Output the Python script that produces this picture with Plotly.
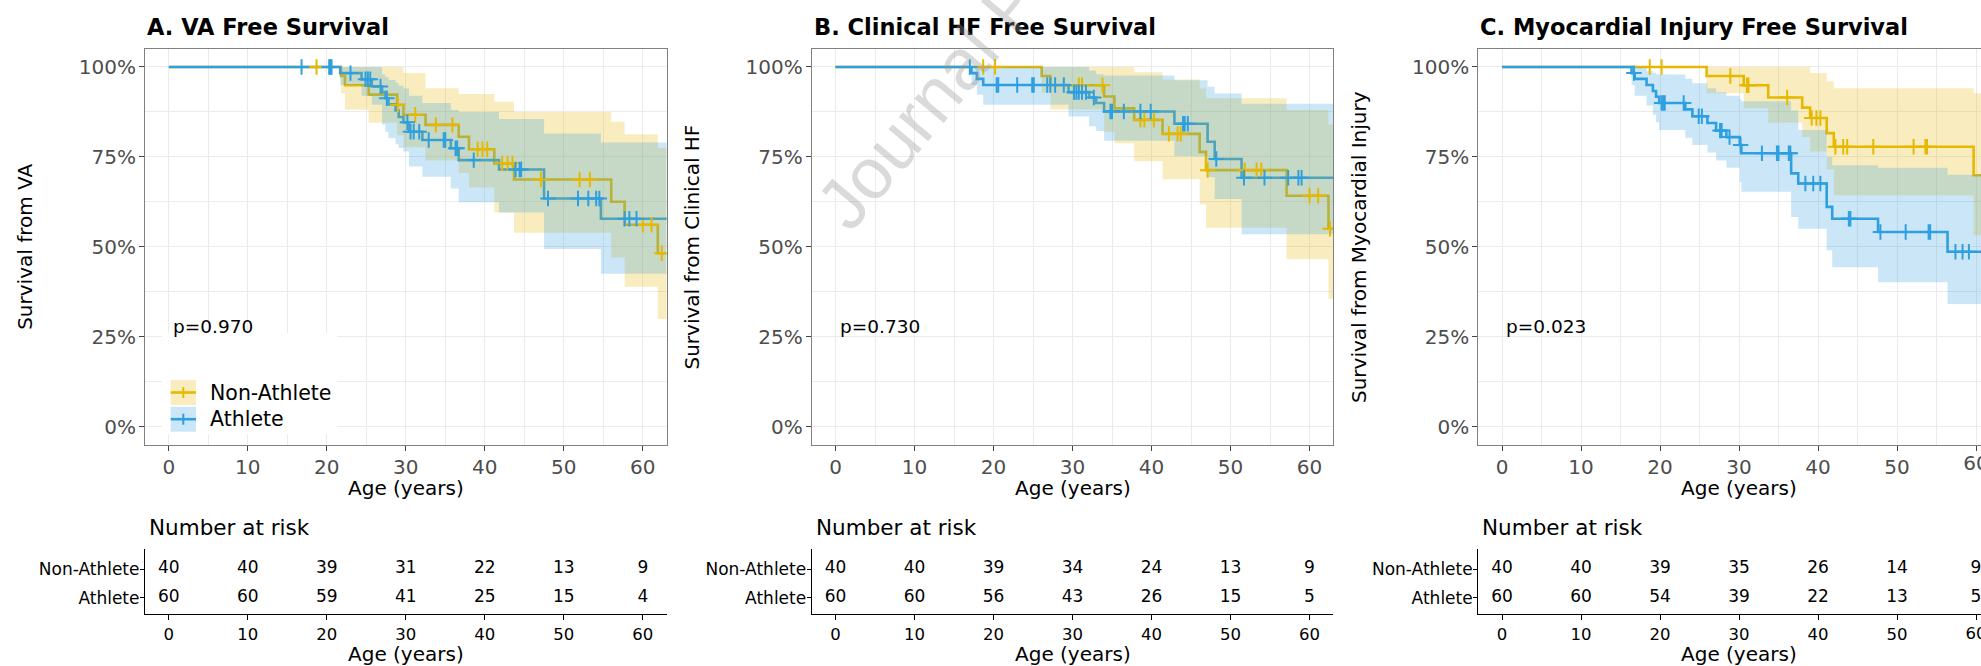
import plotly.graph_objects as go

# ---------------------------------------------------------------------------
# Kaplan-Meier estimates (age in years, survival as a fraction)
# ---------------------------------------------------------------------------
GROUPS = ["Non-Athlete", "Athlete"]
RISK_TIMES = [0, 10, 20, 30, 40, 50, 60]
FOLLOW_END = 63.5

# A. VA free survival
va_non_time = [0, 21.8, 22.3, 25.3, 28.9, 29.7, 32.5, 36.7, 38.0, 41.2, 43.7, 56.0, 57.7, 61.9]
va_non_surv = [1.000, 0.975, 0.949, 0.923, 0.895, 0.867, 0.839, 0.806, 0.771, 0.732, 0.687, 0.625, 0.561, 0.482]
va_non_upper = [1.000, 1.000, 1.000, 1.000, 1.000, 0.983, 0.941, 0.925, 0.925, 0.903, 0.875, 0.848, 0.813, 0.775]
va_non_lower = [1.000, 0.927, 0.881, 0.845, 0.810, 0.777, 0.740, 0.705, 0.665, 0.595, 0.539, 0.470, 0.389, 0.299]
va_non_censor = [18.7, 29.0, 31.2, 33.8, 35.9, 39.1, 39.7, 40.3, 42.2, 42.9, 43.5, 47.1, 52.0, 53.3, 60.0, 61.1, 62.4]

va_ath_time = [0, 21.7, 24.4, 25.7, 27.0, 27.4, 27.8, 28.7, 29.1, 29.7, 30.4, 32.1, 35.7, 36.7, 41.8, 47.5, 54.7]
va_ath_surv = [1.000, 0.983, 0.966, 0.946, 0.930, 0.913, 0.896, 0.879, 0.861, 0.846, 0.820, 0.797, 0.774, 0.741, 0.715, 0.634, 0.578]
va_ath_upper = [1.000, 1.000, 1.000, 1.000, 0.980, 0.972, 0.964, 0.956, 0.948, 0.940, 0.920, 0.900, 0.880, 0.875, 0.855, 0.815, 0.790]
va_ath_lower = [1.000, 0.950, 0.920, 0.895, 0.840, 0.820, 0.802, 0.785, 0.775, 0.765, 0.723, 0.695, 0.662, 0.624, 0.595, 0.494, 0.425]
va_ath_censor = [16.8, 20.3, 20.5, 20.6, 23.0, 24.9, 25.2, 25.5, 26.8, 27.6, 30.2, 30.6, 31.0, 31.7, 32.9,
                 34.8, 35.0, 36.3, 36.5, 38.6, 43.9, 44.4, 44.6, 48.0, 51.8, 53.1, 54.1, 54.5, 57.7, 58.3, 59.2]

va_risk_non = [40, 40, 39, 31, 22, 13, 9]
va_risk_ath = [60, 60, 59, 41, 25, 15, 4]

# B. Clinical HF free survival
hf_non_time = [0, 26.1, 27.2, 34.0, 35.3, 37.8, 41.4, 46.1, 46.9, 57.1, 62.4]
hf_non_surv = [1.000, 0.975, 0.949, 0.918, 0.885, 0.853, 0.814, 0.764, 0.713, 0.642, 0.550]
hf_non_upper = [1.000, 1.000, 1.000, 1.000, 1.000, 0.985, 0.965, 0.940, 0.913, 0.880, 0.840]
hf_non_lower = [1.000, 0.928, 0.882, 0.820, 0.788, 0.738, 0.688, 0.618, 0.553, 0.465, 0.355]
hf_non_censor = [18.7, 20.2, 30.8, 31.2, 33.8, 38.6, 39.1, 40.3, 42.2, 43.3, 43.7, 47.1, 51.8, 53.3, 53.9, 60.0, 61.1, 62.6]

hf_ath_time = [0, 17.2, 17.9, 18.7, 29.5, 32.1, 33.0, 34.0, 42.9, 47.1, 48.0, 51.4]
hf_ath_surv = [1.000, 0.983, 0.967, 0.950, 0.930, 0.915, 0.900, 0.876, 0.842, 0.792, 0.744, 0.692]
hf_ath_upper = [1.000, 1.000, 1.000, 1.000, 1.000, 0.990, 0.980, 0.976, 0.963, 0.945, 0.926, 0.898]
hf_ath_lower = [1.000, 0.950, 0.923, 0.895, 0.862, 0.835, 0.822, 0.795, 0.752, 0.693, 0.633, 0.535]
hf_ath_censor = [17.0, 20.4, 20.6, 23.0, 24.9, 25.1, 26.8, 27.2, 27.8, 28.9, 30.2, 30.5, 30.8, 31.2, 31.7,
                 32.7, 34.8, 35.0, 36.5, 38.6, 39.9, 44.0, 44.2, 44.6, 48.2, 51.7, 54.3, 57.3, 58.6, 59.0]

hf_risk_non = [40, 40, 39, 34, 24, 13, 9]
hf_risk_ath = [60, 60, 56, 43, 26, 15, 5]

# C. Myocardial injury free survival
mi_non_time = [0, 25.9, 30.6, 33.7, 38.0, 39.0, 41.1, 42.0, 59.7]
mi_non_surv = [1.000, 0.975, 0.949, 0.915, 0.887, 0.858, 0.816, 0.778, 0.699]
mi_non_upper = [1.000, 1.000, 1.000, 1.000, 1.000, 0.983, 0.960, 0.941, 0.927]
mi_non_lower = [1.000, 0.927, 0.885, 0.845, 0.805, 0.765, 0.715, 0.643, 0.532]
mi_non_censor = [18.7, 20.2, 28.9, 31.0, 31.2, 36.1, 39.2, 39.8, 40.3, 42.2, 43.2, 43.7, 47.0, 52.1, 53.6, 53.8]

mi_ath_time = [0, 16.4, 16.8, 18.3, 19.1, 19.5, 19.9, 23.2, 24.1, 26.0, 27.1, 28.4, 30.1, 30.3, 36.6, 37.5, 41.1, 41.8, 47.6, 56.4]
mi_ath_surv = [1.000, 0.983, 0.967, 0.950, 0.933, 0.917, 0.900, 0.882, 0.863, 0.844, 0.823, 0.805, 0.783, 0.760,
               0.704, 0.676, 0.611, 0.578, 0.541, 0.486]
mi_ath_upper = [1.000, 1.000, 1.000, 0.989, 0.984, 0.980, 0.979, 0.967, 0.955, 0.941, 0.930, 0.920, 0.910, 0.905,
                0.879, 0.825, 0.750, 0.727, 0.720, 0.700]
mi_ath_lower = [1.000, 0.950, 0.920, 0.893, 0.868, 0.846, 0.825, 0.803, 0.783, 0.762, 0.740, 0.720, 0.680, 0.653,
                0.583, 0.550, 0.490, 0.443, 0.401, 0.341]
mi_ath_censor = [16.7, 20.2, 20.4, 20.6, 23.0, 24.9, 25.3, 27.6, 27.8, 28.8, 30.2, 32.9, 34.8, 35.0, 36.3, 36.5,
                 38.4, 39.4, 40.3, 43.9, 44.1, 47.9, 51.1, 54.0, 54.2, 57.4, 58.3, 59.1]

mi_risk_non = [40, 40, 39, 35, 26, 14, 9]
mi_risk_ath = [60, 60, 54, 39, 22, 13, 5]

PANELS = [
    dict(title="A. VA Free Survival", ylabel="Survival from VA", pval="p=0.970",
         non=(va_non_time, va_non_surv, va_non_upper, va_non_lower, va_non_censor),
         ath=(va_ath_time, va_ath_surv, va_ath_upper, va_ath_lower, va_ath_censor),
         risk=(va_risk_non, va_risk_ath)),
    dict(title="B. Clinical HF Free Survival", ylabel="Survival from Clinical HF", pval="p=0.730",
         non=(hf_non_time, hf_non_surv, hf_non_upper, hf_non_lower, hf_non_censor),
         ath=(hf_ath_time, hf_ath_surv, hf_ath_upper, hf_ath_lower, hf_ath_censor),
         risk=(hf_risk_non, hf_risk_ath)),
    dict(title="C. Myocardial Injury Free Survival", ylabel="Survival from Myocardial Injury", pval="p=0.023",
         non=(mi_non_time, mi_non_surv, mi_non_upper, mi_non_lower, mi_non_censor),
         ath=(mi_ath_time, mi_ath_surv, mi_ath_upper, mi_ath_lower, mi_ath_censor),
         risk=(mi_risk_non, mi_risk_ath)),
]

# ---------------------------------------------------------------------------
# styling / geometry (pixels of the 1981 x 666 page)
# ---------------------------------------------------------------------------
W, H = 1981, 666
FONT = "DejaVu Sans"
COLORS = {"Non-Athlete": "#E7B800", "Athlete": "#2E9FDF"}
FILLS = {"Non-Athlete": "rgba(231,184,0,0.25)", "Athlete": "rgba(46,159,223,0.25)"}
X_MIN, X_MAX = -3, 63
PX_PER_YEAR = 7.9
FRAME_LEFT = [145.1, 811.8, 1478.3]
PLOT_TOP, PLOT_BOTTOM = 49.0, 444.5
TABLE_TOP, TABLE_BOTTOM = 549.0, 614.0
GRID = "#EBEBEB"
TICK_GRAY = "#4D4D4D"


def fx(px):
    return px / W


def fy(py):
    return 1 - py / H


def step_path(t, v, t_end):
    xs, ys = [], []
    for i, ti in enumerate(t):
        tn = t[i + 1] if i + 1 < len(t) else t_end
        xs += [ti, tn]
        ys += [v[i], v[i]]
    return xs, ys


def value_at(t, v, c):
    val = v[0]
    for ti, vi in zip(t, v):
        if ti <= c:
            val = vi
    return val


fig = go.Figure()
layout = dict(width=W, height=H, margin=dict(l=0, r=0, t=0, b=0, pad=0), autosize=False,
              paper_bgcolor="white", plot_bgcolor="rgba(0,0,0,0)", showlegend=False,
              font=dict(family=FONT, color="black"))
annotations, shapes = [], []

for k, p in enumerate(PANELS):
    left = FRAME_LEFT[k]
    right_full = left + (X_MAX - X_MIN) * PX_PER_YEAR
    right = min(right_full, W)
    cut = right < right_full
    xmax = X_MIN + (right - left) / PX_PER_YEAR
    zero_px = left - X_MIN * PX_PER_YEAR
    m = "" if k == 0 else str(k + 1)
    t = str(k + 4)
    xa, ya = "x" + m, "y" + m
    xt, yt = "x" + t, "y" + t

    # survival curves (drawn under the confidence bands)
    for g, key in zip(GROUPS, ("non", "ath")):
        tt, ss, up, lo, cc = p[key]
        sx, sy = step_path(tt, ss, FOLLOW_END)
        fig.add_trace(go.Scatter(x=sx, y=sy, mode="lines", xaxis=xa, yaxis=ya,
                                 line=dict(color=COLORS[g], width=2.6), hoverinfo="skip"))
    # confidence bands
    for g, key in zip(GROUPS, ("non", "ath")):
        tt, ss, up, lo, cc = p[key]
        ux, uy = step_path(tt, up, FOLLOW_END)
        lx, ly = step_path(tt, lo, FOLLOW_END)
        fig.add_trace(go.Scatter(x=ux + lx[::-1], y=uy + ly[::-1], mode="lines", fill="toself",
                                 fillcolor=FILLS[g], line=dict(width=0), xaxis=xa, yaxis=ya,
                                 hoverinfo="skip"))
    # censoring marks
    for g, key in zip(GROUPS, ("non", "ath")):
        tt, ss, up, lo, cc = p[key]
        fig.add_trace(go.Scatter(x=cc, y=[value_at(tt, ss, c) for c in cc], mode="markers",
                                 xaxis=xa, yaxis=ya, hoverinfo="skip",
                                 marker=dict(symbol="cross-thin", size=11, color=COLORS[g],
                                             line=dict(width=2, color=COLORS[g]))))

    # number-at-risk table
    for g, row, counts in zip(GROUPS, (2, 1), p["risk"]):
        fig.add_trace(go.Scatter(x=RISK_TIMES, y=[row] * len(RISK_TIMES), mode="text",
                                 text=[str(c) for c in counts], xaxis=xt, yaxis=yt,
                                 textfont=dict(family=FONT, size=17, color="black"),
                                 hoverinfo="skip", cliponaxis=True))

    layout["xaxis" + m] = dict(
        domain=[fx(left), fx(right)], range=[X_MIN, xmax], anchor=ya,
        tickvals=RISK_TIMES, ticks="outside", ticklen=5, tickwidth=1.1, tickcolor="#444444",
        tickfont=dict(family=FONT, size=20, color=TICK_GRAY), ticklabelstandoff=-1,
        showgrid=True, gridcolor=GRID, gridwidth=1.4,
        minor=dict(tickvals=[5, 15, 25, 35, 45, 55], showgrid=True, gridcolor=GRID, gridwidth=0.9),
        showline=True, linecolor="#808080", linewidth=1.2, mirror=True, zeroline=False)
    layout["yaxis" + m] = dict(
        domain=[fy(PLOT_BOTTOM), fy(PLOT_TOP)], range=[-0.05, 1.05], anchor=xa,
        tickvals=[0, 0.25, 0.5, 0.75, 1.0], tickformat=".0%",
        ticks="outside", ticklen=5, tickwidth=1.1, tickcolor="#444444", ticklabelstandoff=-1,
        tickfont=dict(family=FONT, size=20, color=TICK_GRAY),
        showgrid=True, gridcolor=GRID, gridwidth=1.4,
        minor=dict(tickvals=[0.125, 0.375, 0.625, 0.875], showgrid=True, gridcolor=GRID, gridwidth=0.9),
        showline=True, linecolor="#808080", linewidth=1.2, mirror=not cut, zeroline=False)

    layout["xaxis" + t] = dict(
        domain=[fx(left), fx(right)], range=[X_MIN, xmax], anchor=yt,
        tickvals=RISK_TIMES, ticks="outside", ticklen=5, tickwidth=1.2, tickcolor="black",
        tickfont=dict(family=FONT, size=16.5, color="black"),
        showgrid=False, zeroline=False, showline=True, linecolor="black", linewidth=1.4)
    layout["yaxis" + t] = dict(
        domain=[fy(TABLE_BOTTOM), fy(TABLE_TOP)], range=[0.43, 2.70], anchor=xt,
        tickvals=[2, 1], ticktext=GROUPS, ticks="outside", ticklen=4, tickwidth=1.2, tickcolor="black",
        tickfont=dict(family=FONT, size=17, color="black"), ticklabelstandoff=-3,
        showgrid=False, zeroline=False, showline=True, linecolor="black", linewidth=1.4)

    if cut:
        # the last tick label sits on the page edge; draw it in a clipped strip so it is cut there
        for n, (band, size, col) in enumerate((((452, 477), 20, TICK_GRAY), ((624, 646), 16.5, "black"))):
            ax_id = str(7 + n)
            layout["xaxis" + ax_id] = dict(domain=[fx(left), fx(right)], range=[X_MIN, xmax],
                                           anchor="y" + ax_id, visible=False)
            layout["yaxis" + ax_id] = dict(domain=[fy(band[1]), fy(band[0])], range=[0, 1],
                                           anchor="x" + ax_id, visible=False)
            last = [v for v in RISK_TIMES if v > xmax - 2]
            fig.add_trace(go.Scatter(x=last, y=[0.5] * len(last), mode="text", text=[str(v) for v in last],
                                     xaxis="x" + ax_id, yaxis="y" + ax_id, cliponaxis=True,
                                     textfont=dict(family=FONT, size=size, color=col), hoverinfo="skip"))

    # titles and labels
    annotations += [
        dict(text="<b>%s</b>" % p["title"], x=fx(left), y=fy(27), xanchor="left", yanchor="middle",
             font=dict(family=FONT, size=22.5, color="black")),
        dict(text=p["ylabel"], x=fx(left - 120), y=fy((PLOT_TOP + PLOT_BOTTOM) / 2), textangle=-90,
             xanchor="center", yanchor="middle", font=dict(family=FONT, size=20, color="black")),
        dict(text="Age (years)", x=fx((left + right_full) / 2), y=fy(487.5), xanchor="center",
             yanchor="middle", font=dict(family=FONT, size=20, color="black")),
        dict(text=p["pval"], x=fx(zero_px + 2), y=fy(326), xanchor="left", yanchor="middle",
             font=dict(family=FONT, size=18.5, color="black")),
        dict(text="Number at risk", x=fx(left + 2), y=fy(527), xanchor="left", yanchor="middle",
             font=dict(family=FONT, size=21.5, color="black")),
        dict(text="Age (years)", x=fx((left + right_full) / 2), y=fy(653.5), xanchor="center",
             yanchor="middle", font=dict(family=FONT, size=20, color="black")),
    ]

# legend inside panel A
shapes.append(dict(type="rect", xref="paper", yref="paper", x0=fx(162), x1=fx(337), y0=fy(434), y1=fy(333),
                   fillcolor="white", line=dict(width=0), layer="above"))
for i, g in enumerate(GROUPS):
    top = 380 + i * 26.7
    mid = top + 12.5
    shapes += [
        dict(type="rect", xref="paper", yref="paper", x0=fx(170.7), x1=fx(196), y0=fy(top + 25), y1=fy(top),
             fillcolor=FILLS[g], line=dict(width=0), layer="above"),
        dict(type="line", xref="paper", yref="paper", x0=fx(170.7), x1=fx(196), y0=fy(mid), y1=fy(mid),
             line=dict(color=COLORS[g], width=2.6), layer="above"),
        dict(type="line", xref="paper", yref="paper", x0=fx(183.3), x1=fx(183.3), y0=fy(mid - 5.5),
             y1=fy(mid + 5.5), line=dict(color=COLORS[g], width=2), layer="above"),
    ]
    annotations.append(dict(text=g, x=fx(208), y=fy(mid), xanchor="left", yanchor="middle",
                            font=dict(family=FONT, size=20.5, color="black")))

# diagonal watermark
annotations.append(dict(text="Journal Pre-proof", x=fx(1010), y=fy(5), xanchor="center", yanchor="middle",
                        textangle=-50, font=dict(family="Liberation Sans", size=72,
                                                 color="rgba(150,150,150,0.35)")))

for a in annotations:
    a.setdefault("xref", "paper")
    a.setdefault("yref", "paper")
    a.setdefault("showarrow", False)

layout["annotations"] = annotations
layout["shapes"] = shapes
fig.update_layout(**layout)
fig.write_html("out.html")
